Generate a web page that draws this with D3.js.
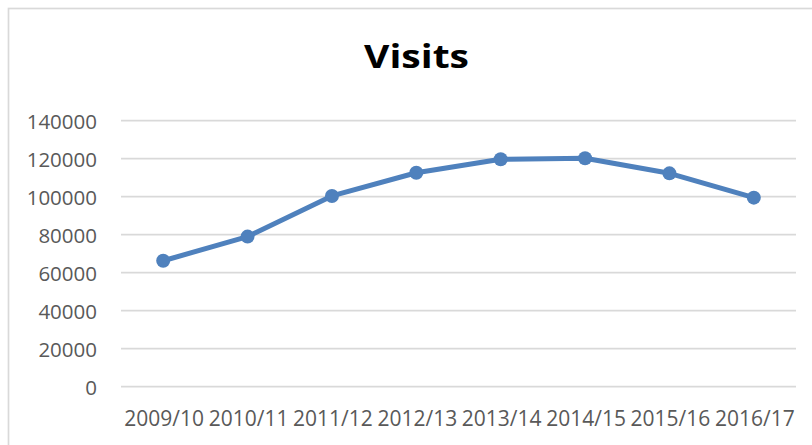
<!DOCTYPE html>
<html><head><meta charset="utf-8">
<script src="https://cdn.jsdelivr.net/npm/d3@7"></script>
<style>html,body{margin:0;padding:0;background:#fff;overflow:hidden}</style>
</head><body>
<svg id="c" width="812" height="445"></svg>
<script>
const categories = ["2009/10","2010/11","2011/12","2012/13","2013/14","2014/15","2015/16","2016/17"];
const visits = [66300, 79000, 100400, 112600, 119700, 120200, 112300, 99500];
const yTicks = [0, 20000, 40000, 60000, 80000, 100000, 120000, 140000];
const title = "Visits";

const svg = d3.select("#c");
const m = {left: 121, right: 796, top: 120.7, bottom: 386.7};

// chart border
svg.append("rect").attr("x", 8.5).attr("y", 8.5).attr("width", 900).attr("height", 900)
  .attr("fill", "none").attr("stroke", "#d9d9d9").attr("stroke-width", 1.7);

const x = d3.scaleBand().domain(categories).range([m.left, m.right]);
const y = d3.scaleLinear().domain([0, 140000]).range([m.bottom, m.top]);

// gridlines
svg.append("g").selectAll("line").data(yTicks).join("line")
  .attr("x1", m.left).attr("x2", m.right)
  .attr("y1", d => y(d)).attr("y2", d => y(d))
  .attr("stroke", "#d9d9d9").attr("stroke-width", 1.8);

const font = "'Open Sans', 'Noto Sans', sans-serif";
// y axis
const yAxis = d3.axisLeft(y).tickValues(yTicks).tickSize(0).tickPadding(0).tickFormat(d3.format("d"));
const gy = svg.append("g").attr("transform", "translate(97,0)").call(yAxis);
gy.select(".domain").remove();
gy.selectAll("text").attr("fill", "#595959").style("font-family", font).style("font-size", "20.5px")
  .attr("dy", "0.36em");

// x axis
const xAxis = d3.axisBottom(x).tickSize(0).tickPadding(0);
const gx = svg.append("g").attr("transform", "translate(1,410)").call(xAxis);
gx.select(".domain").remove();
gx.selectAll("text").attr("fill", "#595959").style("font-family", font).style("font-size", "21px")
  .attr("dy", "0.76em");

// line
const line = d3.line().x((d, i) => x(categories[i]) + x.bandwidth() / 2).y(d => y(d));
svg.append("path").datum(visits).attr("d", line)
  .attr("fill", "none").attr("stroke", "#4f81bd").attr("stroke-width", 5)
  .attr("stroke-linejoin", "round").attr("stroke-linecap", "round");
svg.append("g").selectAll("circle").data(visits).join("circle")
  .attr("cx", (d, i) => x(categories[i]) + x.bandwidth() / 2)
  .attr("cy", d => y(d)).attr("r", 7).attr("fill", "#4f81bd");

// title
svg.append("text").attr("transform", "translate(416.5,68) scale(1.22,1)").attr("text-anchor", "middle")
  .style("font-family", font).style("font-size", "32px").style("font-weight", "bold")
  .attr("fill", "#000").text(title);
</script>
</body></html>
